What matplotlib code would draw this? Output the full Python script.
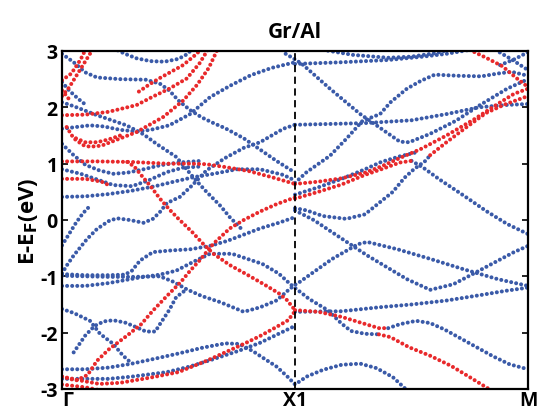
import matplotlib
matplotlib.use("Agg")
import matplotlib.pyplot as plt

# ---------------- data: band energies (eV) at k nodes (Gamma=0, X1=1, M=2)
# red bands
R_flat103_k = [0.0, 0.15, 0.3, 0.45, 0.55, 0.62, 0.7, 0.8, 0.9, 1.0]
R_flat103_e = [1.04, 1.04, 1.03, 1.0, 1.0, 0.99, 0.94, 0.87, 0.76, 0.64]
R_flat073_k = [0.0, 0.1, 0.17, 0.2]
R_flat073_e = [0.73, 0.73, 0.68, 0.62]
R_steep_k = [0.28, 0.31, 0.335, 0.38, 0.42, 0.46, 0.5, 0.56, 0.6, 0.65, 0.72, 0.79, 0.87, 0.93, 0.965, 1.0]
R_steep_e = [1.03, 0.95, 0.82, 0.6, 0.38, 0.19, 0.02, -0.22, -0.4, -0.6, -0.8, -0.96, -1.15, -1.3, -1.42, -1.6]
R_rise_k = [0.0, 0.06, 0.11, 0.15, 0.2, 0.28, 0.34, 0.39, 0.45, 0.51, 0.55, 0.59, 0.65, 0.72, 0.78, 0.85, 0.92, 1.0]
R_rise_e = [-2.78, -2.85, -2.75, -2.5, -2.3, -2.05, -1.85, -1.61, -1.35, -1.1, -0.9, -0.72, -0.42, -0.15, 0.0, 0.15, 0.28, 0.4]
R_bot_k = [0.0, 0.08, 0.16, 0.25, 0.39, 0.5, 0.62, 0.7, 0.78, 0.85, 0.92, 0.97, 1.0]
R_bot_e = [-2.78, -2.85, -2.91, -2.89, -2.79, -2.7, -2.5, -2.35, -2.2, -2.06, -1.9, -1.78, -1.62]
R_bot2_k = [0.0, 0.1, 0.16]
R_bot2_e = [-2.92, -2.97, -3.02]
R_A_k = [0.0, 0.1, 0.2, 0.32, 0.39, 0.46, 0.535, 0.59, 0.63]
R_A_e = [1.86, 1.87, 1.92, 2.04, 2.19, 2.33, 2.51, 2.78, 3.05]
R_B_k = [0.02, 0.05, 0.09, 0.12, 0.17, 0.22, 0.32, 0.435, 0.52, 0.58, 0.63, 0.67]
R_B_e = [1.65, 1.45, 1.33, 1.3, 1.32, 1.4, 1.56, 1.83, 2.12, 2.4, 2.7, 3.05]
R_B2_k = [0.06, 0.1, 0.15, 0.2, 0.25]
R_B2_e = [1.45, 1.38, 1.38, 1.43, 1.5]
R_C_k = [0.33, 0.38, 0.42, 0.52, 0.578, 0.6]
R_C_e = [2.28, 2.42, 2.52, 2.75, 2.95, 3.05]
R_T1_k = [0.0, 0.03, 0.06, 0.09, 0.12, 0.13]
R_T1_e = [2.2, 2.35, 2.55, 2.75, 2.95, 3.05]
R_T2_k = [0.0, 0.04, 0.08, 0.1]
R_T2_e = [2.48, 2.6, 2.85, 3.02]
R_T3_k = [0.0, 0.02, 0.04]
R_T3_e = [2.3, 2.2, 2.09]
# right half reds
R_topM_k = [1.75, 1.82, 1.89, 1.95, 2.0]
R_topM_e = [3.02, 2.88, 2.73, 2.52, 2.36]
R_a_k = [1.0, 1.1, 1.2, 1.3, 1.37, 1.45, 1.54, 1.65, 1.77, 1.87, 1.94, 2.0]
R_a_e = [0.64, 0.68, 0.74, 0.84, 0.95, 1.1, 1.26, 1.5, 1.79, 2.06, 2.24, 2.33]
R_b_k = [1.0, 1.1, 1.2, 1.3, 1.37, 1.45, 1.5]
R_b_e = [0.38, 0.5, 0.63, 0.8, 0.9, 1.02, 1.05]
R_c_k = [1.58, 1.65, 1.74, 1.82, 1.9, 2.0]
R_c_e = [1.15, 1.38, 1.66, 1.9, 2.05, 2.2]
R_L1_k = [1.0, 1.1, 1.2, 1.28, 1.36, 1.4]
R_L1_e = [-1.6, -1.63, -1.72, -1.82, -1.92, -1.92]
R_L2_k = [1.36, 1.41, 1.49, 1.58, 1.67, 1.75, 1.84]
R_L2_e = [-2.03, -2.08, -2.26, -2.41, -2.59, -2.79, -3.02]

# blue bands
B_t1_k = [1.0, 1.2, 1.4, 1.55, 1.65, 1.75]
B_t1_e = [2.77, 2.8, 2.84, 2.9, 2.95, 3.02]
B_t1b_k = [1.12, 1.25, 1.4, 1.5, 1.6, 1.66]
B_t1b_e = [3.02, 2.93, 2.88, 2.9, 2.96, 3.02]
B_Ma_k = [1.86, 1.93, 2.0]
B_Ma_e = [3.02, 2.85, 2.66]
B_Mb_k = [1.88, 1.94, 2.0]
B_Mb_e = [2.75, 2.85, 2.98]
B_t2_k = [1.0, 1.05, 1.15, 1.22, 1.29, 1.365, 1.41, 1.48, 1.54, 1.6, 1.7, 1.8, 1.87, 1.93, 2.0]
B_t2_e = [0.66, 0.85, 1.14, 1.44, 1.76, 1.88, 2.09, 2.33, 2.47, 2.58, 2.56, 2.55, 2.6, 2.63, 2.56]
B_t3_k = [0.96, 1.0, 1.03, 1.15, 1.28, 1.36, 1.45, 1.49, 1.58, 1.69, 1.79, 1.91, 2.0]
B_t3_e = [2.95, 2.85, 2.77, 2.33, 1.88, 1.65, 1.39, 1.38, 1.53, 1.76, 2.03, 2.33, 2.5]
B_f17_k = [1.0, 1.3, 1.5, 1.65, 1.79, 1.9, 2.0]
B_f17_e = [1.69, 1.72, 1.77, 1.88, 2.0, 2.04, 2.06]
B_x_k = [1.0, 1.1, 1.2, 1.3, 1.37, 1.45, 1.52]
B_x_e = [0.45, 0.58, 0.73, 0.9, 1.03, 1.13, 1.2]
B_dip_k = [1.0, 1.05, 1.12, 1.22, 1.3, 1.36, 1.42, 1.47, 1.51, 1.56, 1.58]
B_dip_e = [0.21, 0.17, 0.07, 0.02, 0.1, 0.3, 0.5, 0.75, 0.9, 1.05, 1.15]
B_bdesc_k = [1.5, 1.55, 1.62, 1.7, 1.75, 1.82, 1.91, 2.0]
B_bdesc_e = [1.05, 0.93, 0.72, 0.5, 0.36, 0.16, -0.07, -0.25]
B_desc_k = [1.0, 1.08, 1.16, 1.31, 1.48, 1.58, 1.68, 1.79, 1.94, 2.0]
B_desc_e = [0.17, 0.0, -0.22, -0.63, -1.05, -1.24, -1.14, -0.9, -0.57, -0.46]
B_M1_k = [0.0, 0.1, 0.2, 0.3, 0.42, 0.48, 0.535, 0.6, 0.68, 0.78, 0.85, 0.92, 0.97, 1.0,
          1.02, 1.16, 1.27, 1.31, 1.44, 1.58, 1.72, 1.87, 2.0]
B_M1_e = [-0.99, -1.0, -1.01, -1.01, -1.0, -1.1, -1.23, -1.35, -1.46, -1.63, -1.55, -1.43, -1.25, -1.15,
          -1.1, -0.69, -0.43, -0.39, -0.52, -0.69, -0.87, -1.05, -1.17]
B_c2_k = [0.0, 0.1, 0.2, 0.28, 0.335, 0.42, 0.49, 0.56, 0.635, 0.73, 0.86, 0.93, 0.98,
          1.06, 1.14, 1.2, 1.24, 1.3, 1.36]
B_c2_e = [-1.17, -1.17, -1.12, -1.06, -1.02, -0.97, -0.9, -0.75, -0.6, -0.6, -0.78, -0.95, -1.14,
          -1.4, -1.6, -1.84, -1.97, -2.02, -2.03]
B_fm16_k = [1.0, 1.2, 1.36, 1.5, 1.65, 1.8, 1.9, 2.0]
B_fm16_e = [-1.63, -1.62, -1.55, -1.5, -1.43, -1.33, -1.26, -1.2]
B_L1_k = [1.4, 1.45, 1.52, 1.58, 1.64, 1.71, 1.78, 1.85, 1.92, 2.0]
B_L1_e = [-1.92, -1.85, -1.79, -1.83, -1.94, -2.1, -2.26, -2.42, -2.56, -2.65]
B_low_k = [0.0, 0.1, 0.2, 0.3, 0.39, 0.5, 0.6, 0.7, 0.76, 0.82, 0.86, 0.92, 0.97, 1.0,
           1.05, 1.12, 1.2, 1.28, 1.35, 1.42, 1.48]
B_low_e = [-2.65, -2.65, -2.62, -2.55, -2.47, -2.37, -2.27, -2.19, -2.2, -2.33, -2.44, -2.6, -2.79, -2.92,
           -2.78, -2.66, -2.57, -2.55, -2.63, -2.79, -3.02]
B_low2_k = [0.0, 0.1, 0.2, 0.3, 0.45, 0.55, 0.65, 0.76, 0.85, 0.93, 1.0]
B_low2_e = [-2.82, -2.82, -2.82, -2.78, -2.7, -2.6, -2.47, -2.32, -2.18, -2.02, -1.88]
B_bump_k = [0.0, 0.02, 0.05, 0.107, 0.15, 0.2, 0.235, 0.29, 0.35, 0.39, 0.42, 0.45, 0.506, 0.56, 0.62,
            0.7, 0.78, 0.85, 0.9, 0.95, 1.0]
B_bump_e = [-0.95, -0.81, -0.63, -0.34, -0.16, -0.02, 0.03, 0.0, -0.05, 0.02, 0.14, 0.3, 0.41, 0.62, 0.88,
            1.1, 1.28, 1.38, 1.5, 1.62, 1.69]
B_c_k = [0.0, 0.1, 0.2, 0.27, 0.3, 0.335, 0.39, 0.47, 0.55, 0.635, 0.71, 0.78, 0.85, 0.93, 1.0]
B_c_e = [-0.96, -0.98, -0.98, -0.97, -0.9, -0.72, -0.57, -0.54, -0.52, -0.46, -0.37, -0.26, -0.15, -0.05, 0.05]
B_s_k = [0.0, 0.03, 0.06, 0.09, 0.12]
B_s_e = [-0.45, -0.25, -0.05, 0.12, 0.25]
B_g_k = [0.0, 0.05, 0.12, 0.163, 0.22, 0.26, 0.3]
B_g_e = [-1.58, -1.65, -1.79, -2.02, -2.2, -2.4, -2.55]
B_h_k = [0.05, 0.1, 0.14, 0.18, 0.22, 0.27, 0.306, 0.36, 0.4, 0.42, 0.46, 0.49, 0.535]
B_h_e = [-2.35, -2.05, -1.88, -1.8, -1.78, -1.82, -1.88, -1.98, -1.98, -1.85, -1.6, -1.37, -1.23]
B_top_k = [0.22, 0.27, 0.32, 0.38, 0.44, 0.5, 0.54, 0.56]
B_top_e = [3.05, 2.95, 2.87, 2.82, 2.81, 2.86, 2.95, 3.05]
B_a_k = [0.0, 0.06, 0.12, 0.18, 0.25, 0.32, 0.38, 0.46, 0.55, 0.635, 0.72, 0.81, 0.9, 1.0]
B_a_e = [1.62, 1.65, 1.68, 1.66, 1.6, 1.57, 1.6, 1.68, 1.88, 2.18, 2.38, 2.57, 2.7, 2.8]
B_1_k = [0.0, 0.05, 0.1, 0.15, 0.25, 0.36, 0.42, 0.46, 0.5, 0.55, 0.6, 0.65, 0.7, 0.78, 0.85, 0.92, 1.0]
B_1_e = [2.95, 2.8, 2.62, 2.53, 2.5, 2.49, 2.42, 2.3, 2.12, 1.95, 1.82, 1.72, 1.63, 1.45, 1.25, 1.05, 0.84]
B_j_k = [0.0, 0.05, 0.15, 0.277, 0.35, 0.406, 0.49, 0.565, 0.62, 0.68, 0.72, 0.78]
B_j_e = [2.09, 2.02, 1.86, 1.68, 1.52, 1.35, 1.12, 0.75, 0.5, 0.25, 0.05, -0.2]
B_l_k = [0.0, 0.1, 0.2, 0.3, 0.4, 0.48, 0.565, 0.65, 0.75, 0.85, 0.95, 1.0]
B_l_e = [0.41, 0.42, 0.46, 0.52, 0.6, 0.68, 0.76, 0.82, 0.9, 0.9, 0.8, 0.7]
B_m_k = [0.0, 0.08, 0.15, 0.22, 0.3, 0.37, 0.45, 0.52, 0.6]
B_m_e = [0.9, 0.82, 0.72, 0.62, 0.6, 0.7, 0.85, 0.93, 0.95]
B_n_k = [0.0, 0.05, 0.1, 0.16, 0.22, 0.28, 0.35, 0.42, 0.5, 0.6]
B_n_e = [1.35, 1.15, 0.98, 0.88, 0.82, 0.84, 0.9, 0.97, 1.02, 1.05]
B_o_k = [0.0, 0.03, 0.07, 0.1]
B_o_e = [2.45, 2.3, 2.15, 2.05]

red_bands = [
    (R_flat103_k, R_flat103_e), (R_flat073_k, R_flat073_e), (R_steep_k, R_steep_e),
    (R_rise_k, R_rise_e), (R_bot_k, R_bot_e), (R_bot2_k, R_bot2_e), (R_A_k, R_A_e),
    (R_B_k, R_B_e), (R_B2_k, R_B2_e), (R_C_k, R_C_e), (R_T1_k, R_T1_e), (R_T2_k, R_T2_e),
    (R_T3_k, R_T3_e), (R_topM_k, R_topM_e), (R_a_k, R_a_e), (R_b_k, R_b_e), (R_c_k, R_c_e),
    (R_L1_k, R_L1_e), (R_L2_k, R_L2_e),
]
blue_bands = [
    (B_t1_k, B_t1_e), (B_t1b_k, B_t1b_e), (B_Ma_k, B_Ma_e), (B_Mb_k, B_Mb_e), (B_t2_k, B_t2_e),
    (B_t3_k, B_t3_e), (B_f17_k, B_f17_e), (B_x_k, B_x_e), (B_dip_k, B_dip_e),
    (B_bdesc_k, B_bdesc_e), (B_desc_k, B_desc_e), (B_M1_k, B_M1_e), (B_c2_k, B_c2_e),
    (B_fm16_k, B_fm16_e), (B_L1_k, B_L1_e), (B_low_k, B_low_e), (B_low2_k, B_low2_e),
    (B_bump_k, B_bump_e), (B_c_k, B_c_e), (B_s_k, B_s_e), (B_g_k, B_g_e), (B_h_k, B_h_e),
    (B_top_k, B_top_e), (B_a_k, B_a_e), (B_1_k, B_1_e), (B_j_k, B_j_e), (B_l_k, B_l_e),
    (B_m_k, B_m_e), (B_n_k, B_n_e), (B_o_k, B_o_e),
]

kpath_ticks = [0, 1, 2]
kpath_labels = ["Γ", "X1", "M"]
y_ticks = [-3, -2, -1, 0, 1, 2, 3]
title = "Gr/Al"

# ---------------- style
BLUE = "#3a5aa8"
RED = "#e8292b"
plt.rcParams["font.family"] = ["Open Sans", "DejaVu Sans"]

fig = plt.figure(figsize=(5.43, 4.10), dpi=100)
ax = fig.add_axes([0.1142, 0.0488, 0.8582, 0.8244])

dot_style = dict(linestyle=(0, (0.01, 1.25)), dash_capstyle="round", linewidth=2.9)
for k, e in blue_bands:
    ax.plot(k, e, color=BLUE, **dot_style)
for k, e in red_bands:
    ax.plot(k, e, color=RED, **dot_style)

ax.axvline(1, color="black", linestyle=(0, (4, 2.5)), linewidth=1.3, zorder=5)

ax.set_xlim(0, 2)
ax.set_ylim(-3, 3)
ax.set_yticks(y_ticks)
ax.set_yticklabels([str(v) for v in y_ticks], fontsize=14, fontweight="bold")
ax.set_xticks(kpath_ticks)
ax.set_xticklabels(kpath_labels, fontsize=14, fontweight="bold")
xl = ax.get_xticklabels()
xl[0].set_horizontalalignment("left")
ax.tick_params(axis="x", length=0, pad=1)
ax.tick_params(axis="y", direction="in", length=4, width=1.2, right=True, left=True, pad=3)
for s in ax.spines.values():
    s.set_linewidth(1.6)
ax.set_ylabel("E-E$_\\mathbf{F}$(eV)", fontsize=16, fontweight="bold", labelpad=0)
ax.set_title(title, fontsize=15, fontweight="bold", pad=10)

fig.savefig("out.png", dpi=100)
